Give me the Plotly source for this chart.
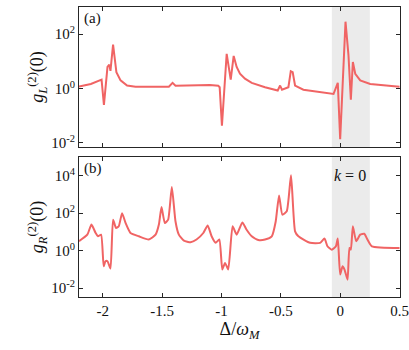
import plotly.graph_objects as go
from plotly.subplots import make_subplots

# panel (a): g_L^(2)(0) vs detuning
x_L = [-2.2, -2.1, -2.01, -1.99, -1.96, -1.945, -1.935, -1.913, -1.885, -1.85,
       -1.795, -1.724, -1.443, -1.412, -1.387, -1.274, -1.097, -1.027, -1.015, -0.996,
       -0.956, -0.922, -0.897, -0.872, -0.844, -0.802, -0.745, -0.633, -0.526, -0.506,
       -0.49, -0.436, -0.416, -0.4, -0.38, -0.31, -0.197, -0.056, -0.02, 0.0,
       0.045, 0.07, 0.09, 0.107, 0.127, 0.169, 0.253, 0.5]
g_L = [1.2, 1.48, 2.14, 0.25, 6.3, 7.6, 4.5, 41.7, 4.0, 2.0,
       1.29, 1.17, 1.17, 1.62, 1.26, 1.29, 1.35, 1.26, 1.12, 0.043,
       19.0, 2.14, 15.8, 6.2, 3.5, 2.3, 1.62, 1.12, 0.85, 1.29,
       0.91, 1.12, 4.3, 4.0, 1.29, 0.91, 0.78, 0.63, 1.62, 0.0138,
       288.0, 16.6, 0.39, 9.5, 3.5, 2.0, 1.48, 1.17]

# panel (b): g_R^(2)(0) vs detuning
x_R = [-2.2, -2.13, -2.095, -2.06, -2.04, -2.014, -1.992, -1.977, -1.96, -1.935,
       -1.913, -1.888, -1.865, -1.837, -1.808, -1.766, -1.696, -1.612, -1.555, -1.527,
       -1.505, -1.477, -1.449, -1.418, -1.387, -1.359, -1.316, -1.26, -1.21, -1.153,
       -1.116, -1.083, -1.049, -1.018, -0.993, -0.97, -0.943, -0.906, -0.872, -0.824,
       -0.788, -0.745, -0.69, -0.633, -0.576, -0.543, -0.515, -0.487, -0.45, -0.414,
       -0.38, -0.352, -0.253, -0.169, -0.132, -0.107, -0.07, -0.036, -0.02, 0.0,
       0.02, 0.036, 0.062, 0.078, 0.09, 0.107, 0.135, 0.169, 0.203, 0.23,
       0.267, 0.5]
g_R = [3.2, 7.1, 24.5, 8.7, 5.8, 7.1, 0.145, 0.27, 0.27, 0.11,
       45.0, 16.2, 20.0, 100.0, 30.0, 8.7, 5.8, 3.9, 7.1, 24.5,
       214.0, 30.0, 45.0, 2500.0, 36.0, 7.1, 3.4, 2.8, 3.9, 8.7,
       22.0, 5.8, 2.6, 3.9, 0.098, 0.22, 0.098, 20.0, 7.1, 32.0,
       13.0, 5.8, 3.7, 3.9, 5.8, 36.0, 890.0, 83.0, 126.0, 10500.0,
       10.7, 5.8, 2.6, 2.6, 4.4, 1.7, 1.12, 1.7, 4.4, 0.052,
       0.145, 0.1, 0.028, 1.38, 1.12, 20.0, 3.2, 7.1, 7.9, 3.9,
       1.7, 1.38]

shade = [-0.07, 0.25]
x_ticks = [-2, -1.5, -1, -0.5, 0, 0.5]
x_labels = ["-2", "-1.5", "-1", "-0.5", "0", "0.5"]
yL_ticks = [0.01, 1, 100]
yL_labels = ["10<sup>-2</sup>", "10<sup>0</sup>", "10<sup>2</sup>"]
yR_ticks = [0.01, 1, 100, 10000]
yR_labels = ["10<sup>-2</sup>", "10<sup>0</sup>", "10<sup>2</sup>", "10<sup>4</sup>"]

line_col = "#F06464"
font = "Times New Roman, Liberation Serif, serif"

fig = make_subplots(rows=2, cols=1, shared_xaxes=True, vertical_spacing=0.0345)
fig.add_trace(go.Scatter(x=x_L, y=g_L, mode="lines",
                         line=dict(color=line_col, width=2)), row=1, col=1)
fig.add_trace(go.Scatter(x=x_R, y=g_R, mode="lines",
                         line=dict(color=line_col, width=2, shape="spline", smoothing=0.5)),
              row=2, col=1)

# gray band around zero detuning
for yr in ["y domain", "y2 domain"]:
    fig.add_shape(type="rect", xref="x", yref=yr, x0=shade[0], x1=shade[1],
                  y0=0, y1=1, fillcolor="#EBEBEB", line_width=0, layer="below")

axis_style = dict(showline=True, linecolor="#262626", linewidth=1, mirror="allticks",
                  ticks="inside", ticklen=4, tickcolor="#262626", showgrid=False,
                  zeroline=False, automargin=False,
                  tickfont=dict(family=font, size=15, color="#111"))

fig.update_xaxes(range=[-2.2, 0.504], tickvals=x_ticks, ticktext=x_labels, **axis_style)
fig.update_xaxes(showticklabels=False, row=1, col=1)
fig.update_xaxes(title=dict(text="Δ/<i>ω</i><sub><i>M</i></sub>",
                            font=dict(family=font, size=18, color="#111"), standoff=4),
                 row=2, col=1)
fig.update_yaxes(type="log", **axis_style)
fig.update_yaxes(range=[-2.15, 3], tickvals=yL_ticks, ticktext=yL_labels,
                 title=dict(text="<i>g</i><sub><i>L</i></sub><sup>(2)</sup>(0)",
                            font=dict(family=font, size=18, color="#111"), standoff=2),
                 row=1, col=1)
fig.update_yaxes(range=[-2.48, 5], tickvals=yR_ticks, ticktext=yR_labels,
                 title=dict(text="<i>g</i><sub><i>R</i></sub><sup>(2)</sup>(0)",
                            font=dict(family=font, size=18, color="#111"), standoff=2),
                 row=2, col=1)

fig.update_layout(
    width=409, height=350,
    margin=dict(l=79, r=9, t=7, b=53),
    plot_bgcolor="white", paper_bgcolor="white",
    showlegend=False,
    annotations=[
        dict(text="(a)", x=0.01, y=0.99, xref="x domain", yref="y domain",
             xanchor="left", yanchor="top", showarrow=False,
             font=dict(family=font, size=15, color="#111")),
        dict(text="(b)", x=0.01, y=0.99, xref="x2 domain", yref="y2 domain",
             xanchor="left", yanchor="top", showarrow=False,
             font=dict(family=font, size=15, color="#111")),
        dict(text="<i>k</i> = 0", x=0.085, y=0.87, xref="x2", yref="y2 domain",
             xanchor="center", yanchor="middle", showarrow=False,
             font=dict(family=font, size=16, color="#111")),
    ],
)

# browser default body margin would shift the figure by 8px
fig.write_html("out.html", config={"displayModeBar": False},
               post_script="document.body.style.margin='0';")
